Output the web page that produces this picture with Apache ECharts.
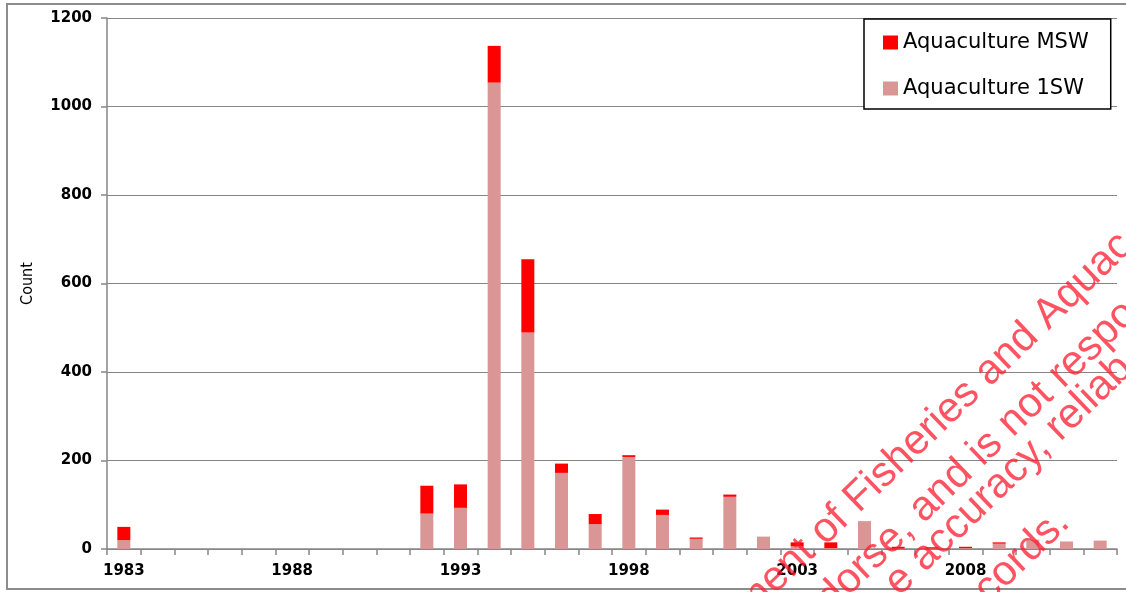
<!DOCTYPE html>
<html>
<head>
<meta charset="utf-8">
<script src="https://cdn.jsdelivr.net/npm/echarts@6/dist/echarts.min.js"></script>
<style>
html,body{margin:0;padding:0;background:#fff;}
#chart{width:1126px;height:592px;}
</style>
</head>
<body>
<div id="chart"></div>
<script>
var years = ['1983','1984','1985','1986','1987','1988','1989','1990','1991','1992',
             '1993','1994','1995','1996','1997','1998','1999','2000','2001','2002',
             '2003','2004','2005','2006','2007','2008','2009','2010','2011','2012'];
var oneSW = [20,0,0,0,0,0,0,0,0,80,
             93,1054,489,172,56,208,77,23,118,28,
             6,2,63,1,1,2,12,21,17,19];
var msw   = [30,0,0,0,0,0,0,0,0,63,
             53,83,166,21,23,4,12,3,5,0,
             9,13,0,4,3,3,3,0,0,0];
var yTicks = {min:0, max:1200, interval:200};
var seriesNames = ['Aquaculture MSW','Aquaculture 1SW'];
var watermark = ['ment of Fisheries and Aquac','dorse, and is not respo','e accuracy, reliab','records.'];

var chart = echarts.init(document.getElementById('chart'), null, {renderer:'canvas'});
var rot = 44*Math.PI/180;
var wmAnchors = [[741.6,610.8],[823.4,604.6],[891.5,588.7],[954,621.7]];
var graphics = [{
  type:'rect', silent:true, z:0,
  shape:{x:7,y:4,width:1130,height:585},
  style:{fill:'none',stroke:'#8c8c8c',lineWidth:2}
}];
watermark.forEach(function(t,i){
  graphics.push({
    type:'text', silent:true, z:100,
    x:wmAnchors[i][0], y:wmAnchors[i][1], rotation:rot,
    style:{text:t, fill:'rgba(255,25,45,0.75)', font:'42px "Liberation Sans", Arial, sans-serif',
           textAlign:'left', textVerticalAlign:'middle', verticalAlign:'middle'}
  });
});

var option = {
  backgroundColor:'#fff',
  animation:false,
  grid:{left:107,right:9,top:18,bottom:43,containLabel:false},
  legend:{
    orient:'vertical', left:864, top:19,
    data:seriesNames,
    selectedMode:false,
    icon:'rect', itemWidth:15, itemHeight:14, itemGap:25,
    padding:[13,22,10,19],
    borderColor:'#000', borderWidth:1.5, backgroundColor:'#fff',
    textStyle:{fontFamily:'DejaVu Sans', fontSize:21, color:'#000', lineHeight:20}
  },
  xAxis:{
    type:'category', data:years,
    axisLine:{lineStyle:{color:'#868686',width:1.5}},
    axisTick:{show:true,interval:0,length:6,lineStyle:{color:'#868686',width:1.5}},
    axisLabel:{interval:4,color:'#000',fontFamily:'DejaVu Sans',fontWeight:'bold',fontSize:15,margin:15},
    splitLine:{show:false}
  },
  yAxis:{
    type:'value', min:yTicks.min, max:yTicks.max, interval:yTicks.interval,
    name:'Count', nameLocation:'middle', nameGap:71, nameRotate:90,
    nameTextStyle:{fontFamily:'"DejaVu Sans Condensed", "DejaVu Sans"',fontSize:16,color:'#000'},
    axisLine:{show:true,lineStyle:{color:'#868686',width:1.5}},
    axisTick:{show:true,length:6,lineStyle:{color:'#868686',width:1.5}},
    axisLabel:{color:'#000',fontFamily:'DejaVu Sans',fontWeight:'bold',fontSize:15,margin:15,
               formatter:function(v){return String(v);}},
    splitLine:{show:true,lineStyle:{color:'#868686',width:1}}
  },
  series:[
    {name:seriesNames[1], type:'bar', stack:'total', data:oneSW, barWidth:13,
     itemStyle:{color:'#D99694'}},
    {name:seriesNames[0], type:'bar', stack:'total', data:msw, barWidth:13,
     itemStyle:{color:'#FF0000'}}
  ],
  graphic:graphics
};
chart.setOption(option);
</script>
</body>
</html>
